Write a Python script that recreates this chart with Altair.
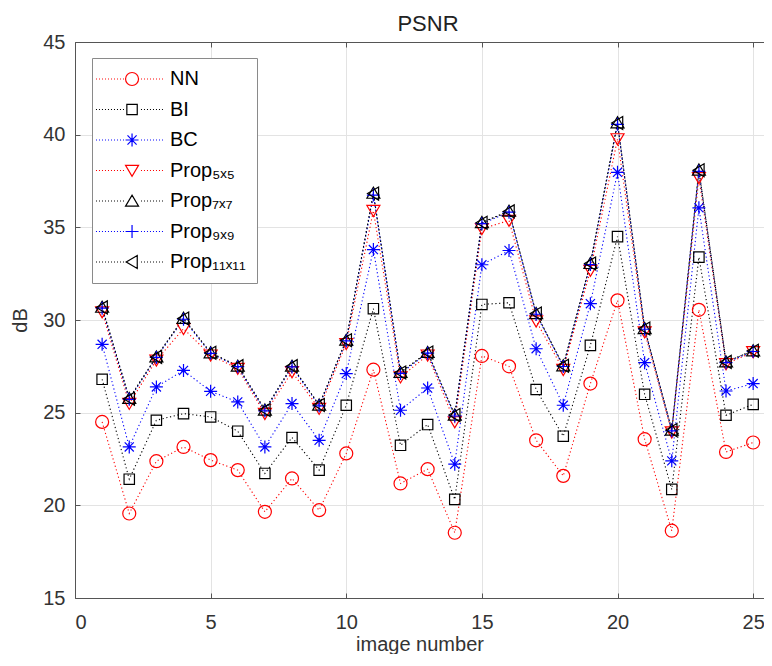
import altair as alt
import pandas as pd

# ---------------- data ----------------
image_number = list(range(1, 26))

series_names = ["NN", "BI", "BC", "Prop₅ₓ₅", "Prop₇ₓ₇", "Prop₉ₓ₉", "Prop₁₁ₓ₁₁"]

nn = [24.50, 19.56, 22.38, 23.15, 22.44, 21.90, 19.65, 21.45, 19.74, 22.80,
      27.32, 21.18, 21.95, 18.52, 28.06, 27.50, 23.51, 21.59, 26.57, 31.06,
      23.57, 18.63, 30.55, 22.88, 23.39]
bi = [26.80, 21.41, 24.59, 24.95, 24.77, 24.00, 21.72, 23.66, 21.90, 25.40,
      30.61, 23.24, 24.36, 20.32, 30.84, 30.93, 26.25, 23.73, 28.63, 34.50,
      25.99, 20.86, 33.39, 24.86, 25.45]
bc = [28.69, 23.15, 26.39, 27.28, 26.15, 25.58, 23.15, 25.49, 23.51, 27.11,
      33.80, 25.13, 26.33, 22.22, 32.98, 33.75, 28.45, 25.40, 30.88, 37.97,
      27.70, 22.40, 36.05, 26.17, 26.57]
prop5 = [30.43, 25.49, 27.83, 29.53, 28.10, 27.38, 24.95, 27.20, 25.22, 28.72,
         35.90, 26.92, 28.10, 24.50, 34.92, 35.37, 29.94, 27.32, 32.67, 39.77,
         29.35, 23.95, 37.67, 27.63, 28.28]
prop7 = [30.70, 25.78, 28.02, 30.10, 28.24, 27.52, 25.15, 27.52, 25.42, 28.92,
         36.85, 27.18, 28.26, 24.88, 35.27, 35.88, 30.36, 27.54, 33.06, 40.65,
         29.55, 24.07, 38.10, 27.75, 28.35]
prop9 = [30.64, 25.72, 27.98, 30.04, 28.20, 27.48, 25.10, 27.47, 25.37, 28.87,
         36.74, 27.12, 28.21, 24.82, 35.20, 35.82, 30.31, 27.49, 32.99, 40.56,
         29.50, 24.02, 38.02, 27.70, 28.30]
prop11 = [30.68, 25.75, 28.01, 30.08, 28.23, 27.51, 25.14, 27.51, 25.41, 28.91,
          36.82, 27.17, 28.25, 24.87, 35.25, 35.86, 30.35, 27.53, 33.05, 40.63,
          29.54, 24.06, 38.08, 27.74, 28.34]

x_ticks = [0, 5, 10, 15, 20, 25]
y_ticks = [15, 20, 25, 30, 35, 40, 45]

# ---------------- styling ----------------
series_colors = ["#ff0000", "#000000", "#0000ff", "#ff0000", "#000000", "#0000ff", "#000000"]

W, H = 689, 556
FONT = "Liberation Sans"
AXIS_COLOR = "#555555"

marker_paths = [
    "M1,0A1,1 0 1,1 -1,0A1,1 0 1,1 1,0Z",                                   # circle
    "M-0.8,-0.8L0.8,-0.8L0.8,0.8L-0.8,0.8Z",                                # square
    "M-1,0L1,0M0,-1L0,1M-0.7,-0.7L0.7,0.7M-0.7,0.7L0.7,-0.7",              # asterisk
    "M-1,-0.8L1,-0.8L0,0.9Z",                                               # triangle down
    "M-1,0.8L1,0.8L0,-0.9Z",                                                # triangle up
    "M-1,0L1,0M0,-1L0,1",                                                   # plus
    "M0.8,-1L0.8,1L-0.9,0Z",                                                # triangle left
]


def legend_marker(i, cx):
    if i == 0:
        return f"M{cx+1},0A1,1 0 1,1 {cx-1},0A1,1 0 1,1 {cx+1},0Z"
    if i == 1:
        return f"M{cx-0.8},-0.8L{cx+0.8},-0.8L{cx+0.8},0.8L{cx-0.8},0.8Z"
    if i == 2:
        return (f"M{cx-1},0L{cx+1},0M{cx},-1L{cx},1M{cx-0.7},-0.7L{cx+0.7},0.7"
                f"M{cx-0.7},0.7L{cx+0.7},-0.7")
    if i == 3:
        return f"M{cx-1},-0.8L{cx+1},-0.8L{cx},0.9Z"
    if i == 4:
        return f"M{cx-1},0.8L{cx+1},0.8L{cx},-0.9Z"
    if i == 5:
        return f"M{cx-1},0L{cx+1},0M{cx},-1L{cx},1"
    return f"M{cx+0.8},-1L{cx+0.8},1L{cx-0.9},0Z"


def legend_dots(cx, dl, dr):
    segs = []
    x = dl
    while x <= dr:
        if abs(x + 0.077 - cx) > 1.25:
            segs.append(f"M{x:.3f},0h0.154")
        x += 0.4615
    return "".join(segs)


LCX, LDL, LDR = 2.93, -2.62, 7.68
legend_paths = [legend_dots(LCX, LDL, LDR) + legend_marker(i, LCX) for i in range(7)]

# ---------------- table ----------------
rows = []
for name, vals in zip(series_names, [nn, bi, bc, prop5, prop7, prop9, prop11]):
    for xv, yv in zip(image_number, vals):
        rows.append({"image": xv, "psnr": yv, "series": name, "legend_series": name})
df = pd.DataFrame(rows)

x_scale = alt.Scale(domain=[0, 25.4], nice=False, zero=False)
y_scale = alt.Scale(domain=[15, 45], nice=False, zero=False)

color_plain = alt.Color("series:N", scale=alt.Scale(domain=series_names, range=series_colors), legend=None)
shape_plain = alt.Shape("series:N", scale=alt.Scale(domain=series_names, range=marker_paths), legend=None)

base = alt.Chart(df)

lines = base.mark_line(strokeDash=[1.2, 2.6], strokeWidth=1.1).encode(
    x=alt.X("image:Q", scale=x_scale,
            axis=alt.Axis(orient="bottom", values=x_ticks, grid=True, gridColor="#e3e3e3",
                          ticks=False, tickSize=0, domain=True, domainColor=AXIS_COLOR,
                          labelFontSize=20, labelFont=FONT, labelColor="#333333",
                          labelPadding=14, title="image number", titleFontSize=20,
                          titleFont=FONT, titleFontWeight="normal", titleColor="#333333",
                          titlePadding=2)),
    y=alt.Y("psnr:Q", scale=y_scale,
            axis=alt.Axis(orient="left", values=y_ticks, grid=True, gridColor="#e3e3e3",
                          ticks=False, tickSize=0, domain=True, domainColor=AXIS_COLOR,
                          labelFontSize=20, labelFont=FONT, labelColor="#333333",
                          labelPadding=10, title="dB", titleFontSize=20, titleFont=FONT,
                          titleFontWeight="normal", titleColor="#333333", titlePadding=12)),
    color=color_plain,
    detail="series:N",
)

points = base.mark_point(filled=False, size=169, strokeWidth=1.2, opacity=1).encode(
    x=alt.X("image:Q", scale=x_scale,
            axis=alt.Axis(orient="top", offset=-H, values=x_ticks, labels=False, domain=False,
                          grid=False, ticks=True, tickSize=5, tickColor=AXIS_COLOR, title=None)),
    y=alt.Y("psnr:Q", scale=y_scale,
            axis=alt.Axis(orient="right", offset=-W, values=y_ticks, labels=False, domain=False,
                          grid=False, ticks=True, tickSize=5, tickColor=AXIS_COLOR, title=None)),
    color=color_plain,
    shape=shape_plain,
)

top_frame = base.mark_line(opacity=0).encode(
    x=alt.X("image:Q", scale=x_scale,
            axis=alt.Axis(orient="top", values=x_ticks, labels=False, domain=True,
                          domainColor=AXIS_COLOR, grid=False, ticks=False, tickSize=0, title=None)),
    y=alt.Y("psnr:Q", scale=y_scale, axis=None),
    detail="series:N",
)

legend_layer = base.mark_point(filled=False, size=169, strokeWidth=1.2, opacity=0).encode(
    x=alt.X("image:Q", scale=x_scale,
            axis=alt.Axis(orient="bottom", offset=-H, values=x_ticks, labels=False, domain=False,
                          grid=False, ticks=True, tickSize=5, tickColor=AXIS_COLOR, title=None)),
    y=alt.Y("psnr:Q", scale=y_scale, axis=None),
    color=alt.Color("legend_series:N",
                    scale=alt.Scale(domain=series_names, range=series_colors),
                    legend=alt.Legend(title=None)),
    shape=alt.Shape("legend_series:N",
                    scale=alt.Scale(domain=series_names, range=legend_paths),
                    legend=alt.Legend(title=None)),
)

chart = alt.layer(lines, points, top_frame, legend_layer).resolve_scale(
    color="independent", shape="independent"
).resolve_axis(
    x="independent", y="independent"
).properties(
    width=W, height=H,
    title=alt.TitleParams("PSNR", fontSize=22, font=FONT, fontWeight="normal",
                          color="#222222", offset=12, dx=8.5, dy=16, frame="group"),
    autosize=alt.AutoSizeParams(type="none"),
    padding={"left": 67, "top": 34, "right": 0, "bottom": 56},
    background="white",
).configure_view(
    stroke=None
).configure_legend(
    orient="none", legendX=17, legendY=16, padding=11,
    strokeColor="#8a8a8a", fillColor="white",
    symbolSize=169, symbolStrokeWidth=1.2, labelFontSize=20, labelFont=FONT,
    labelColor="#000000", labelOffset=47, rowPadding=10.5, symbolOffset=0,
)

chart.save("out.html", embed_options={"renderer": "svg", "actions": False})
